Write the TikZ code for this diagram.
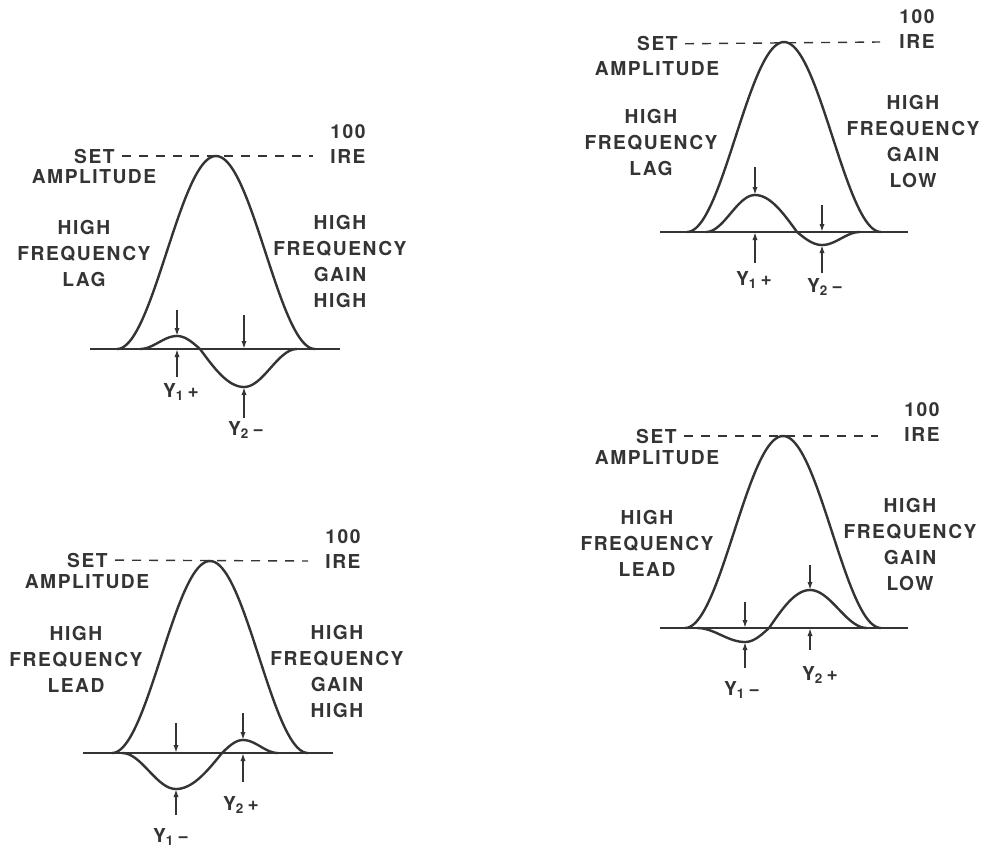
\documentclass[tikz,border=0pt]{standalone}
\usepackage{fontspec}
\newfontfamily\capsfont[LetterSpace=8]{TeX Gyre Heros}
\usepackage{xcolor}
\definecolor{inkgray}{RGB}{52, 52, 52}
\usepackage{tikz}
\usetikzlibrary{arrows.meta}

\begin{document}
\begin{tikzpicture}[x=0.5pt, y=-0.5pt, >={Latex[length=4pt, width=2.6pt]},
    pulse/.style={inkgray, line width=1.2pt},
    axisline/.style={inkgray, line width=1pt},
    refline/.style={inkgray, line width=0.7pt, dash pattern=on 4.5pt off 4pt, shorten <=3.5pt},
    ptr/.style={->, inkgray, line width=0.75pt},
    lbl/.style={text=inkgray, font=\capsfont\bfseries\fontsize{9.6}{13}\selectfont, align=center, inner sep=0pt}]
    \useasboundingbox (0,0) rectangle (983,846);

    % high frequency lag, gain high
    \coordinate (aL) at (90,349);
    \coordinate (aR) at (340,349);
    \coordinate (aTop) at (313,156);
    \coordinate (aP1) at (177,336); \coordinate (aB1) at (177,349);
    \coordinate (aP2) at (244,387); \coordinate (aB2) at (244,349);
    \coordinate (aT1) at (177,310); \coordinate (aU1) at (177,377);
    \coordinate (aT2) at (244,315); \coordinate (aU2) at (244,418);
    \draw[axisline] (aL) -- (aR);
    \draw[pulse] plot[domain=117:315, samples=90] (\x,{349-193*pow(sin((\x-117)/198*180),2)});
    \draw[pulse] plot[domain=140:177, samples=20] (\x,{349-13*pow(sin((\x-140)/37*90),2)})
        -- plot[domain=177:200, samples=15] (\x,{349-13*cos((\x-177)/23*90)})
        -- plot[domain=200:244, samples=20] (\x,{349+38*sin((\x-200)/44*90)})
        -- plot[domain=244:297, samples=25] (\x,{349+38*pow(cos((\x-244)/53*90),2)});
    \node[lbl, anchor=east] (aSet) at (115,156) {SET};
    \node[lbl] (aAmp) at (94,177) {AMPLITUDE};
    \node[lbl] (a100) at (348,132) {100};
    \node[lbl] (aIre) at (348,156) {IRE};
    \node[lbl] (aLeft) at (84,253) {HIGH\\FREQUENCY\\LAG};
    \node[lbl] (aRight) at (340,261) {HIGH\\FREQUENCY\\GAIN\\HIGH};
    \node[lbl] (aY1) at (181,392) {Y\textsubscript{1}\,+};
    \node[lbl] (aY2) at (246,430) {Y\textsubscript{2}\,−};
    \draw[refline] (aSet) -- (aTop);
    \draw[ptr] (aT1) -- (aP1);
    \draw[ptr] (aU1) -- (aB1);
    \draw[ptr] (aT2) -- (aB2);
    \draw[ptr] (aU2) -- (aP2);

    % high frequency lag, gain low
    \coordinate (bL) at (660,232);
    \coordinate (bR) at (908,232);
    \coordinate (bTop) at (880,42);
    \coordinate (bP1) at (755,195); \coordinate (bB1) at (755,232);
    \coordinate (bP2) at (822,245); \coordinate (bB2) at (822,232);
    \coordinate (bT1) at (755,167); \coordinate (bU1) at (755,263);
    \coordinate (bT2) at (822,205); \coordinate (bU2) at (822,273);
    \draw[axisline] (bL) -- (bR);
    \draw[pulse] plot[domain=687:881, samples=90] (\x,{232-190*pow(sin((\x-687)/194*180),2)});
    \draw[pulse] plot[domain=706:755, samples=25] (\x,{232-37*pow(sin((\x-706)/49*90),2)})
        -- plot[domain=755:797, samples=20] (\x,{232-37*cos((\x-755)/42*90)})
        -- plot[domain=797:822, samples=15] (\x,{232+13*sin((\x-797)/25*90)})
        -- plot[domain=822:860, samples=20] (\x,{232+13*pow(cos((\x-822)/38*90),2)});
    \node[lbl, anchor=east] (bSet) at (678,44) {SET};
    \node[lbl] (bAmp) at (657,69) {AMPLITUDE};
    \node[lbl] (b100) at (917,17) {100};
    \node[lbl] (bIre) at (917,42) {IRE};
    \node[lbl] (bLeft) at (651,142) {HIGH\\FREQUENCY\\LAG};
    \node[lbl] (bRight) at (913,141.5) {HIGH\\FREQUENCY\\GAIN\\LOW};
    \node[lbl] (bY1) at (754,280) {Y\textsubscript{1}\,+};
    \node[lbl] (bY2) at (825,287) {Y\textsubscript{2}\,−};
    \draw[refline] (bSet) -- (bTop);
    \draw[ptr] (bT1) -- (bP1);
    \draw[ptr] (bU1) -- (bB1);
    \draw[ptr] (bT2) -- (bB2);
    \draw[ptr] (bU2) -- (bP2);

    % high frequency lead, gain high
    \coordinate (cL) at (83,753);
    \coordinate (cR) at (333,753);
    \coordinate (cTop) at (308,561);
    \coordinate (cP1) at (176,789); \coordinate (cB1) at (176,753);
    \coordinate (cP2) at (243,740); \coordinate (cB2) at (243,753);
    \coordinate (cT1) at (176,723); \coordinate (cU1) at (176,815);
    \coordinate (cT2) at (243,713); \coordinate (cU2) at (243,782);
    \draw[axisline] (cL) -- (cR);
    \draw[pulse] plot[domain=112:308, samples=90] (\x,{753-192*pow(sin((\x-112)/196*180),2)});
    \draw[pulse] plot[domain=122:176, samples=25] (\x,{753+36*pow(sin((\x-122)/54*90),2)})
        -- plot[domain=176:222, samples=20] (\x,{753+36*cos((\x-176)/46*90)})
        -- plot[domain=222:243, samples=15] (\x,{753-13*sin((\x-222)/21*90)})
        -- plot[domain=243:278, samples=20] (\x,{753-13*pow(cos((\x-243)/35*90),2)});
    \node[lbl, anchor=east] (cSet) at (108,560) {SET};
    \node[lbl] (cAmp) at (87,582) {AMPLITUDE};
    \node[lbl] (c100) at (343,537) {100};
    \node[lbl] (cIre) at (343,561) {IRE};
    \node[lbl] (cLeft) at (76,659) {HIGH\\FREQUENCY\\LEAD};
    \node[lbl] (cRight) at (337,671.5) {HIGH\\FREQUENCY\\GAIN\\HIGH};
    \node[lbl] (cY2) at (241,805) {Y\textsubscript{2}\,+};
    \node[lbl] (cY1) at (171,837) {Y\textsubscript{1}\,−};
    \draw[refline] (cSet) -- (cTop);
    \draw[ptr] (cT1) -- (cB1);
    \draw[ptr] (cU1) -- (cP1);
    \draw[ptr] (cT2) -- (cP2);
    \draw[ptr] (cU2) -- (cB2);

    % high frequency lead, gain low
    \coordinate (dL) at (660,628);
    \coordinate (dR) at (908,628);
    \coordinate (dTop) at (878,436);
    \coordinate (dP1) at (745,642); \coordinate (dB1) at (745,628);
    \coordinate (dP2) at (810,590); \coordinate (dB2) at (810,628);
    \coordinate (dT1) at (745,602); \coordinate (dU1) at (745,668);
    \coordinate (dT2) at (810,565); \coordinate (dU2) at (810,650);
    \draw[axisline] (dL) -- (dR);
    \draw[pulse] plot[domain=685:881, samples=90] (\x,{628-192*pow(sin((\x-685)/196*180),2)});
    \draw[pulse] plot[domain=697:745, samples=25] (\x,{628+14*pow(sin((\x-697)/48*90),2)})
        -- plot[domain=745:769, samples=15] (\x,{628+14*cos((\x-745)/24*90)})
        -- plot[domain=769:810, samples=20] (\x,{628-38*sin((\x-769)/41*90)})
        -- plot[domain=810:867, samples=25] (\x,{628-38*pow(cos((\x-810)/57*90),2)});
    \node[lbl, anchor=east] (dSet) at (677,436) {SET};
    \node[lbl] (dAmp) at (657,458) {AMPLITUDE};
    \node[lbl] (d100) at (922,410) {100};
    \node[lbl] (dIre) at (922,434) {IRE};
    \node[lbl] (dLeft) at (647,543) {HIGH\\FREQUENCY\\LEAD};
    \node[lbl] (dRight) at (910,544) {HIGH\\FREQUENCY\\GAIN\\LOW};
    \node[lbl] (dY2) at (820,675) {Y\textsubscript{2}\,+};
    \node[lbl] (dY1) at (742,690) {Y\textsubscript{1}\,−};
    \draw[refline] (dSet) -- (dTop);
    \draw[ptr] (dT1) -- (dB1);
    \draw[ptr] (dU1) -- (dP1);
    \draw[ptr] (dT2) -- (dP2);
    \draw[ptr] (dU2) -- (dB2);
\end{tikzpicture}
\end{document}
